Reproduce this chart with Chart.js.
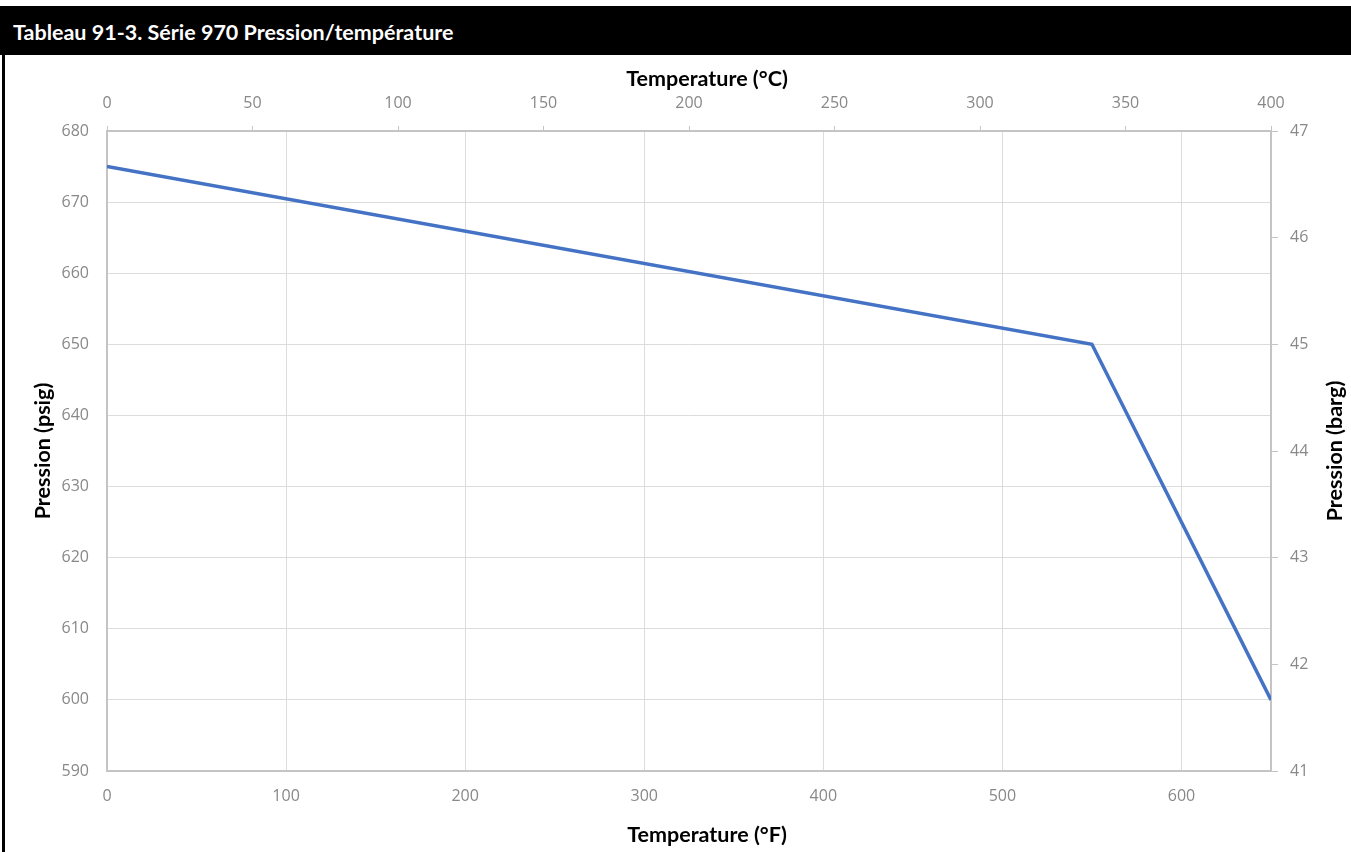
<!DOCTYPE html>
<html lang="fr">

<head>
    <meta charset="UTF-8">
    <title>Série 970 Pression/température</title>
    <script src="https://cdn.jsdelivr.net/npm/chart.js"></script>
</head>

<body>
    <div class="header">Tableau 91-3. Série 970 Pression/température</div>
    <div class="frame"></div>
    <div class="chart-box"><canvas id="pressureChart"></canvas></div>
</body>

</html>

<script>
    // points of the curve
    const tempF = [0, 550, 650];
    const pressurePsig = [675, 650, 600];

    // axis ranges
    const fTicks = { min: 0, max: 650, step: 100 };
    const cTicks = { min: 0, max: 400, step: 50 };
    const psigTicks = { min: 590, max: 680, step: 10 };
    const bargTicks = { min: 41, max: 47, step: 1 };

    // axis titles
    const titleTop = "Temperature (°C)";
    const titleBottom = "Temperature (°F)";
    const titleLeft = "Pression (psig)";
    const titleRight = "Pression (barg)";

    const tickFont = { family: "Open Sans", size: 16 };
    const tickColor = "#888888";
    const gridColor = "#dcdcdc";
    const axisColor = "#c4c4c4";

    // fixed sizes so the plot area lands where the original one is
    function fixWidth(w) { return scale => { scale.width = w; }; }
    function fixHeight(h) { return scale => { scale.height = h; }; }

    // chart.js turns the right title the other way, so all four are drawn here
    const axisTitles = {
        id: "axisTitles",
        afterDraw(chart) {
            const c = chart.ctx;
            const area = chart.chartArea;
            const midX = (area.left + area.right) / 2 + 18;
            const midY = (area.top + area.bottom) / 2;
            c.save();
            c.fillStyle = "#000";
            c.font = "bold 21.5px Lato";
            c.textAlign = "center";
            c.textBaseline = "middle";
            c.fillText(titleTop, midX, area.top - 52);
            c.fillText(titleBottom, midX, area.bottom + 64);
            [[43, titleLeft], [chart.width - 16, titleRight]].forEach(([x, txt]) => {
                c.save();
                c.translate(x, midY);
                c.rotate(-Math.PI / 2);
                c.fillText(txt, 0, 0);
                c.restore();
            });
            c.restore();
        }
    };

    let ctx = document.getElementById("pressureChart").getContext("2d");

    new Chart(ctx, {
        type: "line",
        data: {
            datasets: [{
                label: "Pression",
                data: tempF.map((t, i) => ({ x: t, y: pressurePsig[i] })),
                borderColor: "#4472C4",
                borderWidth: 3.5,
                pointRadius: 0,
                tension: 0,
                xAxisID: "x",
                yAxisID: "y"
            }]
        },
        plugins: [axisTitles],
        options: {
            responsive: true,
            maintainAspectRatio: false,
            animation: false,
            layout: { padding: 0 },
            plugins: {
                legend: { display: false },
                tooltip: { enabled: false }
            },
            scales: {
                x: {
                    type: "linear",
                    position: "bottom",
                    min: fTicks.min,
                    max: fTicks.max,
                    afterFit: fixHeight(81),
                    grid: { color: gridColor, drawTicks: false },
                    border: { color: axisColor, width: 2 },
                    ticks: {
                        stepSize: fTicks.step,
                        padding: 16,
                        font: tickFont,
                        color: tickColor,
                        maxRotation: 0,
                        // no label on the 650 end tick
                        callback: v => (v % fTicks.step === 0 ? v : "")
                    }
                },
                x2: {
                    type: "linear",
                    position: "top",
                    min: cTicks.min,
                    max: cTicks.max,
                    afterFit: fixHeight(76),
                    grid: { drawOnChartArea: false, color: axisColor, tickLength: 5 },
                    border: { color: axisColor, width: 2 },
                    ticks: { stepSize: cTicks.step, padding: 13, font: tickFont, color: tickColor, maxRotation: 0 }
                },
                y: {
                    type: "linear",
                    position: "left",
                    min: psigTicks.min,
                    max: psigTicks.max,
                    afterFit: fixWidth(107),
                    grid: { color: gridColor, drawTicks: false },
                    border: { color: axisColor, width: 2 },
                    ticks: { stepSize: psigTicks.step, padding: 18, font: tickFont, color: tickColor }
                },
                y2: {
                    type: "linear",
                    position: "right",
                    min: bargTicks.min,
                    max: bargTicks.max,
                    afterFit: fixWidth(80),
                    grid: { drawOnChartArea: false, color: axisColor, tickLength: 7 },
                    border: { color: axisColor, width: 2 },
                    ticks: { stepSize: bargTicks.step, padding: 12, font: tickFont, color: tickColor }
                }
            }
        }
    });
</script>

<style>
    body {
        margin: 0;
        background: white;
        width: 1351px;
        height: 852px;
        overflow: hidden;
        position: relative;
    }

    .header {
        position: absolute;
        left: 0;
        top: 6px;
        width: 1351px;
        height: 49px;
        background: black;
        color: white;
        font-family: Lato, sans-serif;
        font-weight: bold;
        font-size: 21.5px;
        line-height: 52px;
        padding-left: 13px;
        box-sizing: border-box;
    }

    .frame {
        position: absolute;
        left: 2px;
        top: 55px;
        width: 3px;
        height: 797px;
        background: black;
    }

    .chart-box {
        position: absolute;
        left: 0;
        top: 55px;
        width: 1351px;
        height: 797px;
    }
</style>
